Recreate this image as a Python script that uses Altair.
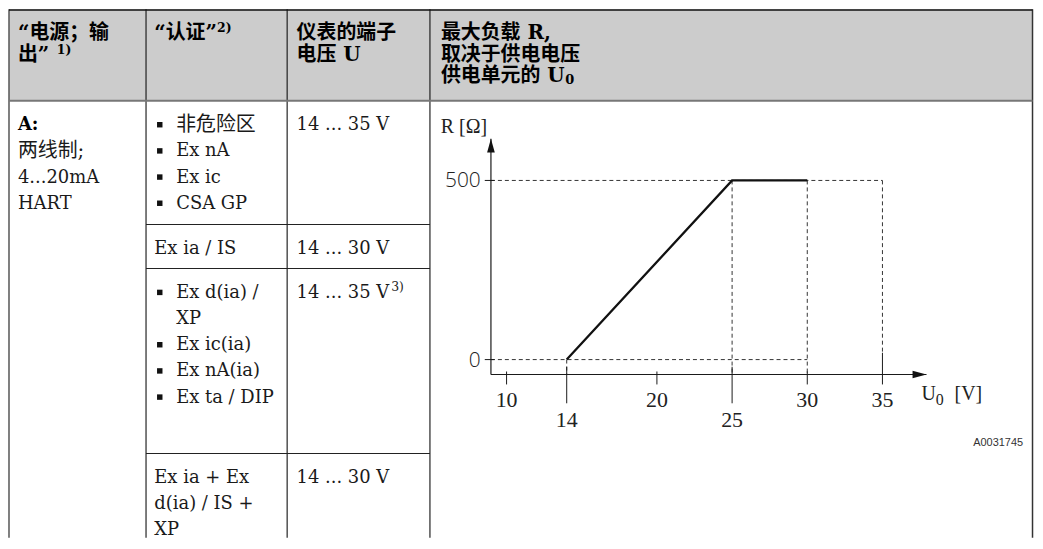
import altair as alt
import pandas as pd

# ---------------- data ----------------
header_lines = [
    ["“电源；输", "出”"],
    ["“认证”"],
    ["仪表的端子", "电压 U"],
    ["最大负载 R,", "取决于供电电压", "供电单元的 U"],
]
header_sup = ["1)", "2)", "", ""]
header_sub = ["", "", "", "0"]
output_lines = ["A:", "两线制;", "4...20mA", "HART"]
approval_rows = [
    ["非危险区", "Ex nA", "Ex ic", "CSA GP"],
    ["Ex ia / IS"],
    ["Ex d(ia) /", "XP", "Ex ic(ia)", "Ex nA(ia)", "Ex ta / DIP"],
    ["Ex ia + Ex", "d(ia) / IS +", "XP"],
]
approval_bullets = [
    [True, True, True, True],
    [False],
    [True, False, True, True, True],
    [False, False, False],
]
voltage_rows = ["14 ... 35 V", "14 ... 30 V", "14 ... 35 V", "14 ... 30 V"]
voltage_notes = ["", "", "3)", ""]
figure_id = "A0031745"

u0_values = [14, 25, 30]
r_values = [0, 500, 500]
x_tick_values = [10, 14, 20, 25, 30, 35]
x_tick_marked = [14, 25]
y_tick_values = [0, 500]
y_title = "R [Ω]"
x_title = ["U", "0", "[V]"]

# ---------------- layout ----------------
W, H = 1032, 531
M = 8.0


def c(v):
    return v - M


TABLE_L, TABLE_R = 9.0, 1037.5
COLS = [146.7, 288.5, 432.0]
HEAD_B = 100.0
ROW_TOPS = [100.0, 224.3, 268.5, 454.3]
HEAD_Y0, HEAD_PITCH = 30.0, 22.0
BODY_OFF, BODY_PITCH = 23.0, 26.3
COL_TEXT_X = [18.0, 155.0, 298.0, 443.0]
BULLET_X, BULLET_TEXT_X = 160.5, 177.0
HEAD_SUP_X = [57.0, 218.0, 0, 0]
HEAD_SUB_X = 568.0
VOLT_NOTE_X = 393.0
SUP_RAISE = 4.5
CJK_SIZE, LATIN_SIZE = 20, 18
TFONT = "DejaVu Serif, Noto Sans CJK SC"
CFONT = "Liberation Serif"


def has_cjk(s):
    return any(("\u3000" <= ch <= "\u9fff") or ("\uff00" <= ch <= "\uffef") for ch in s)


PX = alt.Scale(domain=[0, W], range=[0, W], nice=False, zero=False)
PY = alt.Scale(domain=[0, H], range=[0, H], nice=False, zero=False)

# table lines
segs = []


def seg(x, x2, y, y2, col, w):
    segs.append(dict(x=x, x2=x2, y=y, y2=y2, col=col, w=w))


seg(c(TABLE_L), c(TABLE_L), 0, H, "#555555", 1.5)
seg(c(TABLE_R), c(TABLE_R), 0, H, "#333333", 1.5)
seg(c(TABLE_L), c(TABLE_R), 0.75, 0.75, "#111111", 1.5)
for xc in COLS:
    seg(c(xc), c(xc), 0, H, "#111111", 1.1)
for yt in ROW_TOPS[1:]:
    seg(c(COLS[0]), c(COLS[2]), c(yt), c(yt), "#222222", 1.1)
seg(c(TABLE_L), c(TABLE_R), c(HEAD_B), c(HEAD_B), "#777777", 2.0)
df_segs = pd.DataFrame(segs)

df_head_bg = pd.DataFrame([dict(x=c(TABLE_L), x2=c(TABLE_R), y=0, y2=c(HEAD_B))])

# header texts
head_rows = []
for ci, lines in enumerate(header_lines):
    for li, t in enumerate(lines):
        head_rows.append(dict(x=c(COL_TEXT_X[ci]), y=c(HEAD_Y0 + li * HEAD_PITCH), text=t,
                              size=CJK_SIZE if has_cjk(t) else LATIN_SIZE))
df_head = pd.DataFrame(head_rows)

small_rows = []
for ci, s in enumerate(header_sup):
    if s:
        li = len(header_lines[ci]) - 1
        small_rows.append(dict(x=c(HEAD_SUP_X[ci]), y=c(HEAD_Y0 + li * HEAD_PITCH - SUP_RAISE),
                               text=s, size=12.5))
for ci, s in enumerate(header_sub):
    if s:
        li = len(header_lines[ci]) - 1
        small_rows.append(dict(x=c(HEAD_SUB_X), y=c(HEAD_Y0 + li * HEAD_PITCH + 4), text=s, size=13))
df_head_small = pd.DataFrame(small_rows)

# body texts
body_rows, bold_rows, bullets, notes = [], [], [], []
for li, t in enumerate(output_lines):
    row = dict(x=c(COL_TEXT_X[0]), y=c(ROW_TOPS[0] + BODY_OFF + li * BODY_PITCH), text=t,
               size=CJK_SIZE if has_cjk(t) else LATIN_SIZE)
    (bold_rows if li == 0 else body_rows).append(row)
for ri, lines in enumerate(approval_rows):
    for li, t in enumerate(lines):
        yy = c(ROW_TOPS[ri] + BODY_OFF + li * BODY_PITCH)
        if approval_bullets[ri][li]:
            bullets.append(dict(x=c(BULLET_X), y=yy + 1))
            xx = c(BULLET_TEXT_X)
        elif ri in (0, 2):
            xx = c(BULLET_TEXT_X)
        else:
            xx = c(COL_TEXT_X[1])
        body_rows.append(dict(x=xx, y=yy, text=t, size=CJK_SIZE if has_cjk(t) else LATIN_SIZE))
for ri, t in enumerate(voltage_rows):
    yy = c(ROW_TOPS[ri] + BODY_OFF)
    body_rows.append(dict(x=c(COL_TEXT_X[2]), y=yy, text=t, size=LATIN_SIZE))
    if voltage_notes[ri]:
        notes.append(dict(x=c(VOLT_NOTE_X), y=yy - 6, text=voltage_notes[ri], size=12.5))
df_body = pd.DataFrame(body_rows)
df_bold = pd.DataFrame(bold_rows)
df_bullets = pd.DataFrame(bullets)
df_notes = pd.DataFrame(notes)
df_fig = pd.DataFrame([dict(x=c(1028.0), y=c(444.0), text=figure_id)])


def pxy():
    return dict(x=alt.X("x:Q", scale=PX, axis=None), y=alt.Y("y:Q", scale=PY, axis=None))


def text_layer(df, weight="normal", color="#1a1a1a", font=TFONT):
    return alt.Chart(df).mark_text(align="left", baseline="middle", font=font, fontWeight=weight,
                                   color=color, dy=1.5).encode(
        text="text:N", size=alt.Size("size:Q", scale=None, legend=None), **pxy())


head_bg = alt.Chart(df_head_bg).mark_rect(color="#cccccc").encode(
    x=alt.X("x:Q", scale=PX, axis=None), x2="x2:Q",
    y=alt.Y("y:Q", scale=PY, axis=None), y2="y2:Q")

lines = alt.Chart(df_segs).mark_rule().encode(
    x=alt.X("x:Q", scale=PX, axis=None), x2="x2:Q",
    y=alt.Y("y:Q", scale=PY, axis=None), y2="y2:Q",
    color=alt.Color("col:N", scale=None, legend=None),
    strokeWidth=alt.StrokeWidth("w:Q", scale=None, legend=None))

bullet_layer = alt.Chart(df_bullets).mark_square(size=30, color="#111111", opacity=1).encode(**pxy())

fig_layer = alt.Chart(df_fig).mark_text(align="right", baseline="middle", font="Liberation Sans",
                                        fontSize=11, color="#333333").encode(text="text:N", **pxy())

# ---------------- load chart (data scales) ----------------
XS = alt.Scale(domain=[10, 35], range=[c(509.0), c(886.7)], nice=False, zero=False)
YS = alt.Scale(domain=[0, 500], range=[c(360.0), c(180.0)], nice=False, zero=False)
AX_U, AX_R = 8.96, -41.7       # axis crossing in data units
X_END, Y_END = 37.93, 616.7     # arrow tips

axis_df = pd.DataFrame([
    dict(u=AX_U, r=AX_R, u2=X_END, r2=AX_R),
    dict(u=AX_U, r=AX_R, u2=AX_U, r2=Y_END),
])
tick_rows = []
for v in x_tick_values:
    if v in x_tick_marked:
        tick_rows.append(dict(u=v, r=-20, u2=v, r2=-122))
    elif v == max(x_tick_values):
        tick_rows.append(dict(u=v, r=19, u2=v, r2=-69.4))
    else:
        tick_rows.append(dict(u=v, r=-33.3, u2=v, r2=-69.4))
for v in y_tick_values:
    tick_rows.append(dict(u=8.55, r=v, u2=9.2, r2=v))
tick_df = pd.DataFrame(tick_rows)

r_top, r_bot = max(r_values), min(r_values)
dash_df = pd.DataFrame([
    dict(u=AX_U, r=r_top, u2=max(x_tick_values), r2=r_top),
    dict(u=AX_U, r=r_bot, u2=u0_values[-1], r2=r_bot),
    dict(u=u0_values[0], r=r_bot, u2=u0_values[0], r2=AX_R),
    dict(u=u0_values[1], r=r_top, u2=u0_values[1], r2=AX_R),
    dict(u=u0_values[2], r=r_top, u2=u0_values[2], r2=AX_R),
    dict(u=max(x_tick_values), r=r_top, u2=max(x_tick_values), r2=19),
])


def uxr():
    return dict(x=alt.X("u:Q", scale=XS, axis=None), y=alt.Y("r:Q", scale=YS, axis=None))


axis_layer = alt.Chart(axis_df).mark_rule(color="#1a1a1a", strokeWidth=1.2).encode(
    x2="u2:Q", y2="r2:Q", **uxr())
tick_layer = alt.Chart(tick_df).mark_rule(color="#1a1a1a", strokeWidth=1.0).encode(
    x2="u2:Q", y2="r2:Q", **uxr())
dash_layer = alt.Chart(dash_df).mark_rule(color="#333333", strokeWidth=1.0, strokeDash=[4, 3]).encode(
    x2="u2:Q", y2="r2:Q", **uxr())

arrow_df = pd.DataFrame([
    dict(u=X_END, r=AX_R, shape="M0,0L-2,-0.55L-2,0.55Z"),
    dict(u=AX_U, r=Y_END, shape="M0,0L0.55,2L-0.55,2Z"),
])
arrow_layer = alt.Chart(arrow_df).mark_point(filled=True, size=196, color="#111111", opacity=1,
                                             strokeWidth=0).encode(
    shape=alt.Shape("shape:N", scale=None, legend=None), **uxr())

curve_df = pd.DataFrame(dict(u=u0_values, r=r_values))
curve_layer = alt.Chart(curve_df).mark_line(color="#111111", strokeWidth=2.3).encode(**uxr())

xlab_df = pd.DataFrame([dict(u=v, r=(-167 if v in x_tick_marked else -111), text=str(v)) for v in x_tick_values])
xlab_layer = alt.Chart(xlab_df).mark_text(align="center", baseline="middle", font=CFONT, fontSize=22,
                                          color="#222222", dy=1).encode(text="text:N", **uxr())
ylab_df = pd.DataFrame([dict(u=8.28, r=v, text=str(v)) for v in y_tick_values])
ylab_layer = alt.Chart(ylab_df).mark_text(align="right", baseline="middle", font="Open Sans", fontWeight=300,
                                          fontSize=21, color="#222222", dy=1).encode(text="text:N", **uxr())
ytitle_df = pd.DataFrame([dict(u=5.63, r=653, text=y_title)])
ytitle_layer = alt.Chart(ytitle_df).mark_text(align="left", baseline="middle", font=CFONT, fontSize=20,
                                              color="#222222", dy=1).encode(text="text:N", **uxr())
xtitle_df = pd.DataFrame([
    dict(u=37.6, r=-92, text=x_title[0], size=20),
    dict(u=38.55, r=-111, text=x_title[1], size=16),
    dict(u=39.8, r=-92, text=x_title[2], size=20),
])
xtitle_layer = alt.Chart(xtitle_df).mark_text(align="left", baseline="middle", font=CFONT,
                                              color="#222222", dy=1).encode(
    text="text:N", size=alt.Size("size:Q", scale=None, legend=None), **uxr())

chart = alt.layer(
    head_bg, lines,
    text_layer(df_head, weight="bold", color="#000000"),
    text_layer(df_head_small, weight="bold", color="#000000"),
    text_layer(df_bold, weight="bold", color="#000000"),
    text_layer(df_body),
    text_layer(df_notes),
    bullet_layer, fig_layer,
    dash_layer, axis_layer, tick_layer, arrow_layer, curve_layer,
    xlab_layer, ylab_layer, ytitle_layer, xtitle_layer,
).resolve_scale(x="independent", y="independent").properties(
    width=W, height=H, padding=0, autosize=alt.AutoSizeParams(type="none")
).configure_view(stroke=None)

chart.save("out.html", embed_options={"renderer": "svg", "actions": False})
